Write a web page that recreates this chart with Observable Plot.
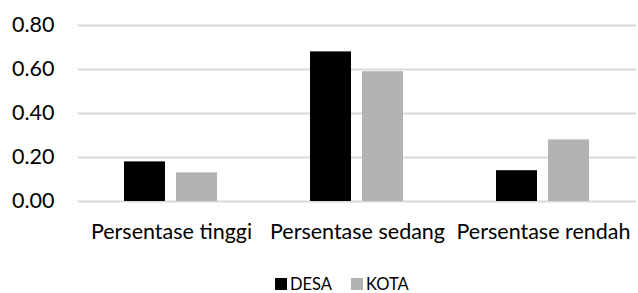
<!DOCTYPE html>
<html>
<head>
<meta charset="utf-8">
<script src="https://cdn.jsdelivr.net/npm/d3@7"></script>
<script src="https://cdn.jsdelivr.net/npm/@observablehq/plot@0.6"></script>
<style>
  html, body { margin: 0; padding: 0; background: #fff; }
  body { width: 638px; height: 293px; overflow: hidden; font-family: Lato, "Open Sans", sans-serif; }
  #chart svg { display: block; }
  #legend { display: flex; align-items: center; height: 58px; padding-left: 275px; font-size: 16.5px; color: #000; }
  .sw { width: 12px; height: 12px; display: inline-block; margin-right: 3px; }
  .item { display: flex; align-items: center; margin-right: 19px; }
</style>
</head>
<body>
<div id="chart"></div>
<div id="legend"></div>
<script>
const categories = ["Persentase tinggi", "Persentase sedang", "Persentase rendah"];
const series = ["DESA", "KOTA"];
const desaValues = [0.18, 0.68, 0.14];
const kotaValues = [0.13, 0.59, 0.28];
const yTicks = [0, 0.2, 0.4, 0.6, 0.8];
const colors = ["#000000", "#b2b2b2"];

const data = [];
categories.forEach((c, i) => {
  data.push({cat: c, series: "DESA", value: desaValues[i]});
  data.push({cat: c, series: "KOTA", value: kotaValues[i]});
});

const chart = Plot.plot({
  width: 638,
  height: 255,
  marginLeft: 77,
  marginRight: 1,
  marginTop: 25,
  marginBottom: 54,
  style: {fontFamily: "Lato, 'Open Sans', sans-serif", fontSize: "20px", color: "#000", background: "#fff"},
  fx: {domain: categories, padding: 0, label: null},
  x: {domain: series, paddingInner: 0.21, paddingOuter: 0.87, axis: null},
  y: {domain: [0, 0.8], axis: null, label: null},
  color: {domain: series, range: colors},
  marks: [
    Plot.gridY(yTicks, {stroke: "#d9d9d9", strokeOpacity: 1, strokeWidth: 2}),
    Plot.barY(data, {fx: "cat", x: "series", y: "value", fill: "series"}),
    Plot.axisY(yTicks, {tickSize: 0, tickPadding: 24, tickFormat: d => d.toFixed(2), fontSize: 21.5, fill: "#000", label: null}),
    Plot.axisFx({anchor: "bottom", tickSize: 0, tickPadding: 22, fontSize: 21.5, fill: "#000", label: null})
  ]
});
document.getElementById("chart").appendChild(chart);

const legend = document.getElementById("legend");
series.forEach((s, i) => {
  const item = document.createElement("span");
  item.className = "item";
  const sw = document.createElement("span");
  sw.className = "sw";
  sw.style.background = colors[i];
  item.appendChild(sw);
  item.appendChild(document.createTextNode(s));
  legend.appendChild(item);
});
</script>
</body>
</html>
